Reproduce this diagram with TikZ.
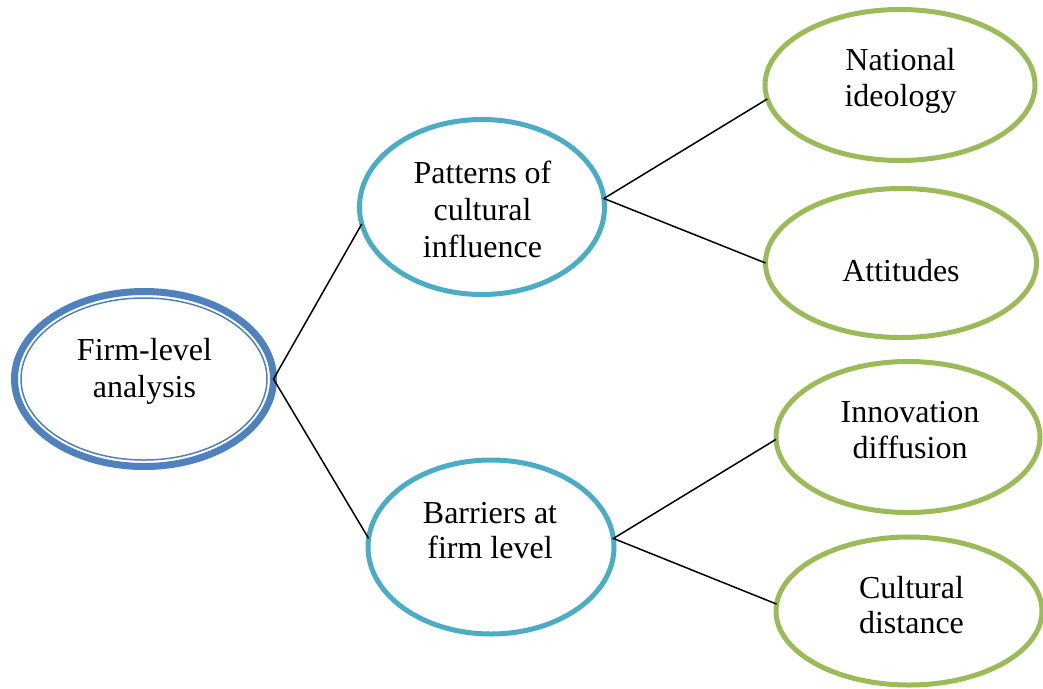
\documentclass[tikz,border=0pt]{standalone}
\usepackage{fontspec}
\setmainfont{Liberation Serif}
\usetikzlibrary{shapes.geometric}
\definecolor{firmblue}{HTML}{4F81BD}
\definecolor{tealblue}{HTML}{4BACC6}
\definecolor{leafgreen}{HTML}{9BBB59}
\begin{document}
\begin{tikzpicture}[x=1pt,y=-1pt,
  oval/.style={ellipse,inner sep=0pt,outer sep=0pt,fill=white},
  rootoval/.style={oval,draw=firmblue,line width=7pt},
  midoval/.style={oval,draw=tealblue,line width=5pt},
  leafoval/.style={oval,draw=leafgreen,line width=5pt},
  txt/.style={anchor=base,inner sep=0pt,font=\fontsize{32}{37}\selectfont},
  link/.style={draw=black,line width=1.5pt}]
\useasboundingbox (0,0) rectangle (1043,688);
% ellipses
\node[rootoval,minimum width=259pt,minimum height=175pt] (firm) at (144,379) {};
\draw[firmblue,line width=1.5pt] (firm.center) ellipse [x radius=123pt,y radius=81pt];
\node[midoval,minimum width=245pt,minimum height=175pt] (pat) at (482,207) {};
\node[midoval,minimum width=246pt,minimum height=174pt] (bar) at (491,547) {};
\node[leafoval,minimum width=270pt,minimum height=151pt] (nat) at (900,85) {};
\node[leafoval,minimum width=271pt,minimum height=149pt] (att) at (901,263) {};
\node[leafoval,minimum width=264pt,minimum height=151pt] (inn) at (908,437) {};
\node[leafoval,minimum width=266pt,minimum height=148pt] (cul) at (909,611) {};
% connectors
\draw[link] (pat.188) -- (firm.east) -- (bar.176);
\draw[link] (nat.186) -- (pat.4) -- (att.180);
\draw[link] (inn.181) -- (bar.4) -- (cul.177);
% texts
\node[txt] (firmA) at (144.5,360) {Firm-level};
\node[txt] (firmB) at (144.5,397) {analysis};
\node[txt] (patA) at (482.5,183) {Patterns of};
\node[txt] (patB) at (482.5,220) {cultural};
\node[txt] (patC) at (482.5,257) {influence};
\node[txt] (barA) at (490,523) {Barriers at};
\node[txt] (barB) at (490,558) {firm level};
\node[txt] (natA) at (900.5,70) {National};
\node[txt] (natB) at (900.5,106) {ideology};
\node[txt] (attA) at (901,281) {Attitudes};
\node[txt] (innA) at (910,422) {Innovation};
\node[txt] (innB) at (910,458) {diffusion};
\node[txt] (culA) at (911.5,598) {Cultural};
\node[txt] (culB) at (911.5,633) {distance};
\end{tikzpicture}
\end{document}
